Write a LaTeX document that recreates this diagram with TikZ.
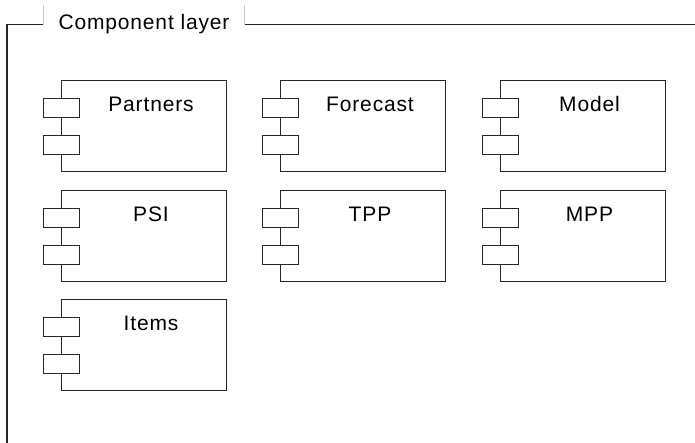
\documentclass[tikz,border=0pt]{standalone}
\usepackage{fontspec}
\newfontfamily\diagfont{Liberation Sans}[LetterSpace=4]
\begin{document}
\begin{tikzpicture}[x=1pt,y=-1pt]
\tikzset{
  frameline/.style={draw=black!85, line width=1.3pt},
  ticklines/.style={draw=black!20, line width=0.6pt},
  compbox/.style={draw=black!85, line width=1.2pt, fill=white, rectangle,
    minimum width=165pt, minimum height=91pt, anchor=north west, inner sep=0pt},
  portbox/.style={draw=black!85, line width=1.2pt, fill=white, rectangle,
    minimum width=36pt, minimum height=19pt, anchor=north west, inner sep=0pt},
  complabel/.style={font=\diagfont\fontsize{21}{25}\selectfont, anchor=base, inner sep=0pt},
  titlelabel/.style={font=\diagfont\fontsize{21}{25}\selectfont, inner xsep=15pt, inner ysep=0pt, anchor=center},
}
\useasboundingbox (0,0) rectangle (695,442);

% frame
\coordinate (fTL) at (7,24.5);
\coordinate (fBL) at (7,443);
\coordinate (fR) at (696,24.5);
\coordinate (tickTop) at (0,5);
\node[titlelabel] (title) at (144,24.5) {Component layer};
\draw[frameline] (fBL) -- (fTL) -- (title.west);
\draw[frameline] (title.east) -- (fR);
\draw[ticklines] (title.west) -- (title.west |- tickTop);
\draw[ticklines] (title.east) -- (title.east |- tickTop);

% components
\foreach \name/\txt/\x/\y in {
  partners/Partners/61/80, forecast/Forecast/280/80, model/Model/499.5/80,
  psi/PSI/61/189.5, tpp/TPP/280/189.5, mpp/MPP/499.5/189.5,
  items/Items/61/299} {
  \node[compbox] (\name) at (\x,\y) {};
  \node[portbox] (\name-pa) at ([xshift=-18pt,yshift=-18pt]\name.north west) {};
  \node[portbox] (\name-pb) at ([xshift=-18pt,yshift=-55pt]\name.north west) {};
  \node[complabel] (\name-t) at ([xshift=90pt,yshift=-31.5pt]\name.north west) {\txt};
}
\end{tikzpicture}
\end{document}
